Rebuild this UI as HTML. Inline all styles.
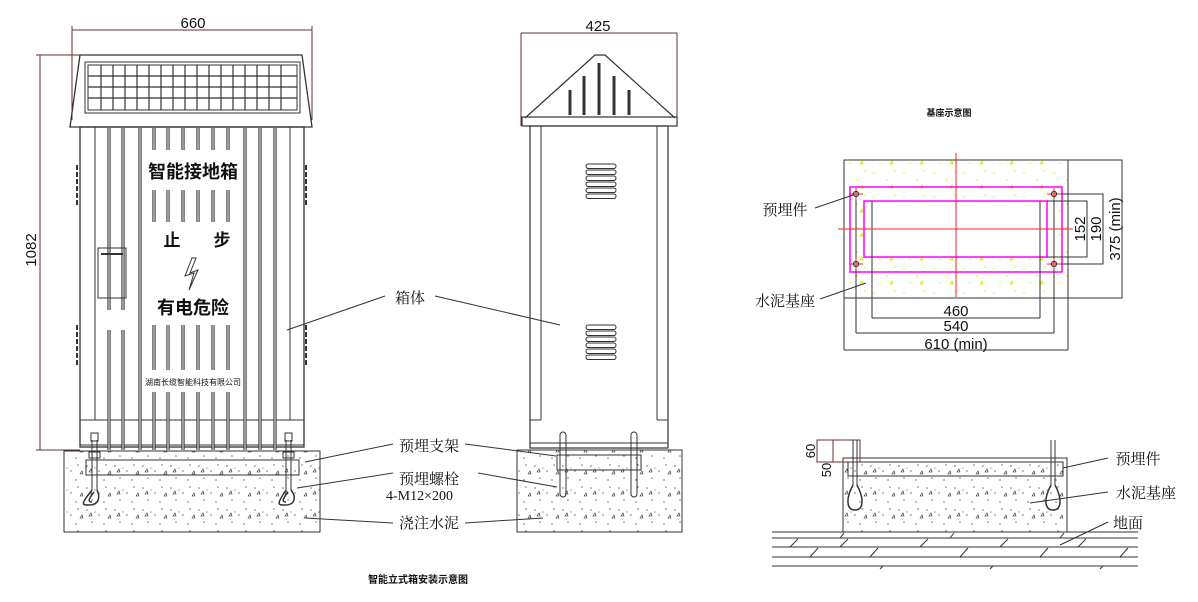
<!DOCTYPE html>
<html><head><meta charset="utf-8"><style>
html,body{margin:0;padding:0;background:#fff}
svg{display:block}
text{font-family:"Liberation Sans","Noto Sans CJK SC",sans-serif;fill:#111}
.c{font-family:"Liberation Serif","Noto Serif CJK SC",serif}
</style></head><body>
<svg width="1198" height="602" viewBox="0 0 1198 602" xmlns="http://www.w3.org/2000/svg">
<defs>
<pattern id="conc" width="28" height="22" patternUnits="userSpaceOnUse">
<circle cx="3" cy="4" r="0.6" fill="#222"/><circle cx="15" cy="9" r="0.6" fill="#222"/><circle cx="22" cy="3" r="0.6" fill="#222"/><circle cx="8" cy="16" r="0.6" fill="#222"/><circle cx="20" cy="18" r="0.6" fill="#222"/><circle cx="11" cy="6" r="0.5" fill="#222"/>
<path d="M24 12 l2 -3 l1 3 z M5 10 l2 -3 l1 3z" fill="none" stroke="#222" stroke-width="0.6"/>
</pattern>
<pattern id="ydot" width="30" height="24" patternUnits="userSpaceOnUse">
<circle cx="4" cy="5" r="0.8" fill="#ee0"/><circle cx="17" cy="12" r="0.8" fill="#ee0"/><circle cx="25" cy="3" r="0.8" fill="#ee0"/><circle cx="10" cy="19" r="0.8" fill="#ee0"/>
<path d="M20 20 l2 -3 l1 3z" fill="none" stroke="#dd0" stroke-width="0.8"/>
</pattern>
<g id="slots">
<path d="M109 128 V310 M123 128 V310 M109 330 V450 M123 330 V450"/>
<path d="M140 128 V450 M245 128 V450 M260 128 V450 M275 128 V450"/>
<path d="M154 128 V150 M168 128 V150 M183 128 V150 M198 128 V150 M213 128 V150 M228 128 V150"/>
<path d="M154 190 V222 M168 190 V222 M183 190 V222 M198 190 V222 M213 190 V222 M228 190 V222"/>
<path d="M154 325 V370 M168 325 V370 M183 325 V370 M198 325 V370 M213 325 V370 M228 325 V370"/>
<path d="M154 392 V450 M168 392 V450 M183 392 V450 M198 392 V450 M213 392 V450 M228 392 V450"/>
</g>
</defs>
<g stroke="#333" fill="none" stroke-width="1">
<!-- FRONT VIEW -->
<line x1="72" y1="30" x2="312" y2="30" stroke="#633"/>
<line x1="72" y1="26" x2="72" y2="120" stroke="#633"/>
<line x1="312" y1="26" x2="312" y2="120" stroke="#633"/>
<line x1="40" y1="55" x2="40" y2="450" stroke="#633"/>
<line x1="36" y1="55" x2="82" y2="55" stroke="#633"/>
<line x1="36" y1="450" x2="80" y2="450" stroke="#633"/>
<path d="M80 55 L302 55 L312 127 L70 127 Z" stroke-width="1.3"/>
<rect x="85" y="62" width="215" height="51"/>
<rect x="88" y="65" width="209" height="45"/>
<g stroke-width="1.2">
<line x1="88" y1="76" x2="297" y2="76"/><line x1="88" y1="87" x2="297" y2="87"/><line x1="88" y1="98" x2="297" y2="98"/>
<line x1="101" y1="65" x2="101" y2="110"/><line x1="113" y1="65" x2="113" y2="110"/><line x1="125" y1="65" x2="125" y2="110"/><line x1="137" y1="65" x2="137" y2="110"/><line x1="149" y1="65" x2="149" y2="110"/><line x1="161" y1="65" x2="161" y2="110"/><line x1="173" y1="65" x2="173" y2="110"/><line x1="185" y1="65" x2="185" y2="110"/><line x1="197" y1="65" x2="197" y2="110"/><line x1="209" y1="65" x2="209" y2="110"/><line x1="221" y1="65" x2="221" y2="110"/><line x1="233" y1="65" x2="233" y2="110"/><line x1="245" y1="65" x2="245" y2="110"/><line x1="257" y1="65" x2="257" y2="110"/><line x1="269" y1="65" x2="269" y2="110"/><line x1="281" y1="65" x2="281" y2="110"/>
</g>
<rect x="80" y="127" width="224" height="320" stroke-width="1.3"/>
<line x1="80" y1="420" x2="304" y2="420"/><line x1="80" y1="445" x2="304" y2="445"/>
<line x1="95" y1="127" x2="95" y2="420"/><line x1="290" y1="127" x2="290" y2="420"/>
<use href="#slots" stroke="#333" stroke-width="3.2"/>
<use href="#slots" stroke="#fff" stroke-width="1"/>
<path d="M77 165 v40 M77 325 v40 M306 165 v40 M306 325 v40" stroke-dasharray="5 2" stroke-width="2"/>
<rect x="98" y="248" width="28" height="50"/><line x1="101" y1="254" x2="123" y2="254" stroke-width="2"/>
<path d="M192 258 L185 276 L194 273 L189 290 L198 270 L190 273 L196 258 Z" stroke-width="1"/>
<!-- base front -->
<rect x="64" y="451" width="256" height="81" fill="url(#conc)"/>
<rect x="86" y="460" width="213" height="15"/>
<path d="M92 440 V490 M97 440 V490" /><rect x="89" y="452" width="11" height="6"/><rect x="91" y="433" width="7" height="8"/>
<path d="M286 440 V490 M291 440 V490"/><rect x="283" y="452" width="11" height="6"/><rect x="285" y="433" width="7" height="8"/>
<path d="M92 490 C80 505 82 505 89 505 C100 505 100 496 97 490 M94 492 C86 502 90 502 92 502" stroke-width="1.5"/>
<path d="M286 490 C276 505 278 505 285 505 C296 505 296 496 291 490 M288 492 C280 502 284 502 286 502" stroke-width="1.5"/>
<!-- leaders -->
<line x1="287" y1="330" x2="385" y2="296"/><line x1="435" y1="296" x2="560" y2="325"/>
<line x1="305" y1="462" x2="393" y2="444"/><line x1="465" y1="444" x2="556" y2="456"/>
<line x1="297" y1="488" x2="393" y2="473"/><line x1="478" y1="473" x2="557" y2="487"/>
<line x1="305" y1="518" x2="393" y2="523"/><line x1="465" y1="523" x2="543" y2="518"/>
<!-- SIDE VIEW -->
<line x1="521" y1="33" x2="677" y2="33" stroke="#633"/>
<line x1="521" y1="33" x2="521" y2="126" stroke="#633"/><line x1="677" y1="33" x2="677" y2="126" stroke="#633"/>
<path d="M525 118 L595 55 L605 55 L675 118" stroke-width="1.2"/>
<rect x="522" y="117" width="155" height="9" stroke-width="1.2"/>
<g stroke-width="3"><path d="M570 90 V115 M584 76 V115 M599 63 V115 M614 76 V115 M629 90 V115"/></g>
<rect x="530" y="126" width="138" height="322" stroke-width="1.2"/>
<line x1="541" y1="126" x2="541" y2="420"/><line x1="657" y1="126" x2="657" y2="420"/>
<line x1="530" y1="420" x2="541" y2="420"/><line x1="657" y1="420" x2="668" y2="420"/>
<line x1="530" y1="443" x2="668" y2="443"/>
<g>
<rect x="586" y="164" width="30" height="4.5" rx="2.2"/><rect x="586" y="170" width="30" height="4.5" rx="2.2"/><rect x="586" y="176" width="30" height="4.5" rx="2.2"/><rect x="586" y="182" width="30" height="4.5" rx="2.2"/><rect x="586" y="188" width="30" height="4.5" rx="2.2"/><rect x="586" y="194" width="30" height="4.5" rx="2.2"/>
<rect x="586" y="325" width="30" height="4.5" rx="2.2"/><rect x="586" y="331" width="30" height="4.5" rx="2.2"/><rect x="586" y="337" width="30" height="4.5" rx="2.2"/><rect x="586" y="343" width="30" height="4.5" rx="2.2"/><rect x="586" y="349" width="30" height="4.5" rx="2.2"/><rect x="586" y="355" width="30" height="4.5" rx="2.2"/>
</g>
<rect x="517" y="450" width="165" height="82" fill="url(#conc)"/>
<rect x="557" y="455" width="84" height="15"/>
<rect x="560" y="432" width="6" height="65" rx="3"/><rect x="631" y="432" width="6" height="65" rx="3"/>
<!-- TOP RIGHT PLAN -->
<rect x="844" y="160" width="224" height="138" fill="url(#ydot)"/>
<rect x="850" y="187" width="212" height="85" stroke="#f0f" stroke-width="1.5"/>
<rect x="864" y="201" width="183" height="56" stroke="#f0f" stroke-width="1.5" fill="#fff"/>
<path d="M872 201 V318 M1040 201 V318 M872 318 H1040" stroke="#333"/>
<path d="M856 194 V333 M1054 194 V333 M856 333 H1054"/>
<path d="M844 298 V350 M1068 298 V350 M844 350 H1068"/>
<path d="M1047 201 H1087 V257 H1047"/>
<path d="M1054 194 H1103 V264 H1054"/>
<path d="M1068 160 H1122 V298 H1068"/>
<line x1="956" y1="153" x2="956" y2="297" stroke="#f22"/>
<line x1="838" y1="229" x2="1073" y2="229" stroke="#f22"/>
<g stroke="#f22"><path d="M849 194 h14 M856 188 v12 M1047 194 h14 M1054 188 v12 M849 264 h14 M856 258 v12 M1047 264 h14 M1054 258 v12"/></g>
<g stroke="#333" stroke-width="1.2"><circle cx="856" cy="194" r="2.5"/><circle cx="1054" cy="194" r="2.5"/><circle cx="856" cy="264" r="2.5"/><circle cx="1054" cy="264" r="2.5"/></g>
<line x1="815" y1="208" x2="853" y2="195"/>
<line x1="820" y1="299" x2="866" y2="283"/>
<!-- BOTTOM RIGHT SECTION -->
<rect x="843" y="458" width="224" height="74" fill="url(#conc)"/>
<rect x="848" y="462" width="215" height="14"/>
<rect x="817" y="440" width="43" height="22" stroke="#633"/><line x1="833" y1="440" x2="833" y2="462" stroke="#633"/>
<path d="M853 440 V485 M857 440 V485 M1051 440 V485 M1055 440 V485"/>
<path d="M853 485 C845 500 847 510 855 510 C864 510 864 498 857 485" stroke-width="1.5"/>
<path d="M1051 485 C1043 500 1045 510 1053 510 C1062 510 1062 498 1055 485" stroke-width="1.5"/>
<path d="M772 532 H1138 M772 538 H1138 M772 547 H1138 M772 557 H1138 M772 566 H1138"/>
<path d="M790 547 l8 -8 M840 547 l8 -8 M920 547 l8 -8 M1000 547 l8 -8 M1078 547 l8 -8 M810 557 l8 -9 M870 557 l8 -9 M960 557 l8 -9 M1040 557 l8 -9 M1120 557 l8 -9 M880 569 l3 -3 M990 569 l3 -3 M1100 569 l3 -3 M840 538 l4 -5 M950 538 l4 -5 M1060 538 l4 -5"/>
<line x1="1063" y1="468" x2="1108" y2="458"/>
<line x1="1030" y1="503" x2="1108" y2="492"/>
<line x1="1060" y1="545" x2="1108" y2="522"/>
</g>
<!-- TEXT -->
<text x="193" y="28" font-size="15" text-anchor="middle" fill="#333">660</text>
<text x="598" y="31" font-size="15" text-anchor="middle" fill="#333">425</text>
<text transform="translate(36 250) rotate(-90)" font-size="15" text-anchor="middle" fill="#333">1082</text>
<text x="193" y="178" font-size="18" font-weight="bold" text-anchor="middle">智能接地箱</text>
<text x="172" y="246" font-size="17" font-weight="bold" text-anchor="middle">止</text>
<text x="222" y="246" font-size="17" font-weight="bold" text-anchor="middle">步</text>
<text x="193" y="314" font-size="18" font-weight="bold" text-anchor="middle">有电危险</text>
<text x="193" y="385" font-size="8" text-anchor="middle">湖南长缆智能科技有限公司</text>
<text x="410" y="303" font-size="15" class="c" text-anchor="middle">箱体</text>
<text x="429" y="451" font-size="15" class="c" text-anchor="middle">预埋支架</text>
<text x="429" y="484" font-size="15" class="c" text-anchor="middle">预埋螺栓</text>
<text x="386" y="500" font-size="14" class="c">4-M12×200</text>
<text x="429" y="528" font-size="15" class="c" text-anchor="middle">浇注水泥</text>
<text x="418" y="583" font-size="10" font-weight="bold" text-anchor="middle">智能立式箱安装示意图</text>
<text x="949" y="116" font-size="9" font-weight="bold" text-anchor="middle">基座示意图</text>
<text x="785" y="215" font-size="15" class="c" text-anchor="middle">预埋件</text>
<text x="785" y="306" font-size="15" class="c" text-anchor="middle">水泥基座</text>
<text x="956" y="316" font-size="15" text-anchor="middle" fill="#333">460</text>
<text x="956" y="331" font-size="15" text-anchor="middle" fill="#333">540</text>
<text x="956" y="349" font-size="15" text-anchor="middle" fill="#333">610 (min)</text>
<text transform="translate(1085 229) rotate(-90)" font-size="15" text-anchor="middle" fill="#333">152</text>
<text transform="translate(1101 229) rotate(-90)" font-size="15" text-anchor="middle" fill="#333">190</text>
<text transform="translate(1120 229) rotate(-90)" font-size="15" text-anchor="middle" fill="#333">375 (min)</text>
<text transform="translate(815 451) rotate(-90)" font-size="13" text-anchor="middle" fill="#633">60</text>
<text transform="translate(831 470) rotate(-90)" font-size="13" text-anchor="middle" fill="#633">50</text>
<text x="1138" y="464" font-size="15" class="c" text-anchor="middle">预埋件</text>
<text x="1146" y="498" font-size="15" class="c" text-anchor="middle">水泥基座</text>
<text x="1128" y="528" font-size="15" class="c" text-anchor="middle">地面</text>
</svg>
</body></html>
